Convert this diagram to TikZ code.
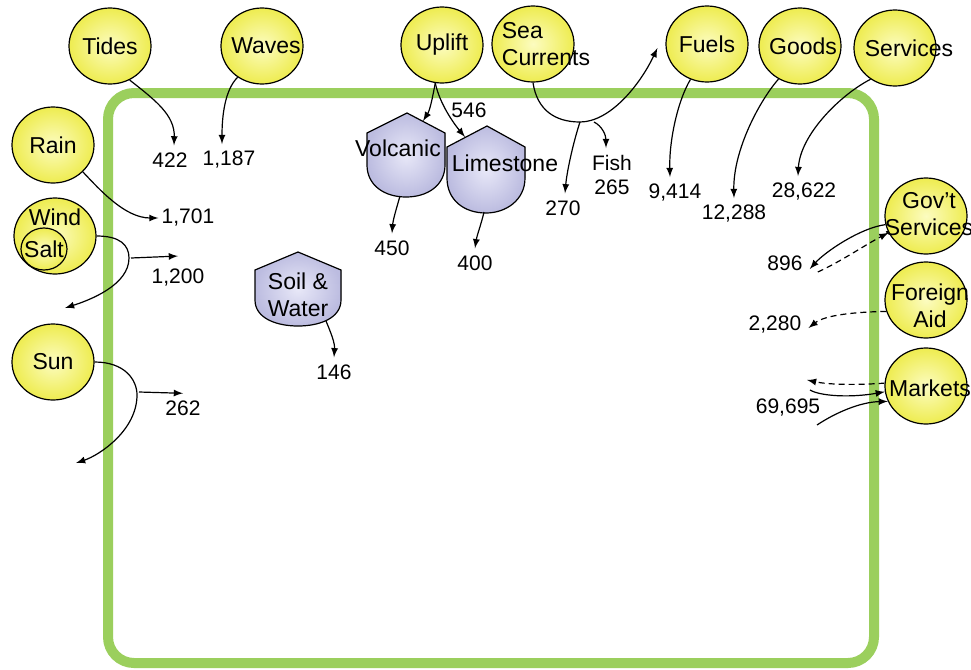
\documentclass[tikz,border=0pt]{standalone}
\usepackage{fontspec}
\setmainfont{Liberation Sans}
\usepackage{tikz}
\definecolor{framegreen}{RGB}{155,207,93}
\definecolor{srcyellow}{RGB}{238,236,80}
\definecolor{srclight}{RGB}{252,252,192}
\definecolor{stonepurple}{RGB}{188,188,224}
\definecolor{stonelight}{RGB}{232,232,248}
\usetikzlibrary{arrows, shapes.geometric}

\begin{document}
\begin{tikzpicture}[x=0.5pt, y=-0.5pt,
			>=latex,   %Pfeilspitzen
			line width=0.6pt, font=\fontsize{10.5}{12}\selectfont,
			src/.style={ellipse, draw=black, inner color=srclight, outer color=srcyellow, minimum width=41pt, minimum height=38pt, inner sep=0pt},
			srctext/.style={font=\fontsize{11.5}{13.5}\selectfont, align=center, inner sep=0pt},
			stone/.style={draw=black, inner color=stonelight, outer color=stonepurple},
			flow/.style={->},
			swap/.style={->, dash pattern=on 3pt off 2pt}]
			%Hintergrund und Rahmen
			\path[fill=white, use as bounding box] (0,0) rectangle (971,670);
			\draw[framegreen, line width=5pt, rounded corners=13pt] (108,93) rectangle (874,663);
			%Gestein
			\filldraw[stone] (407,113) -- (445,133) -- (445,165) .. controls (445,185) and (428,197) .. (406,197) .. controls (384,197) and (367,185) .. (367,165) -- (367,133) -- cycle;
			\filldraw[stone] (487,126) -- (525,147) -- (525,178) .. controls (525,200) and (506,213) .. (486,213) .. controls (464,213) and (447,200) .. (447,178) -- (447,147) -- cycle;
			\filldraw[stone] (298,252) -- (341,270) -- (341,300) .. controls (341,318) and (320,326) .. (298,326) .. controls (276,326) and (255,318) .. (255,300) -- (255,270) -- cycle;
			\node[srctext] (volcanic) at (398,148) {Volcanic};
			\node[srctext] (limestone) at (505,163) {Limestone};
			\node[srctext] (soil) at (298,295) {Soil \&\\Water};
			\coordinate (vol-in) at (423,121);
			\coordinate (lime-in) at (465,137);
			\coordinate (vol-out) at (400,196);
			\coordinate (lime-out) at (484,212);
			\coordinate (soil-out) at (326,321);
			%Quellen oben
			\node[src, label={[srctext]center:Tides}] (tides) at (110,46) {};
			\node[src, label={[srctext, xshift=2pt]center:Waves}] (waves) at (262,46) {};
			\node[src, label={[srctext]center:Uplift}] (uplift) at (442,45) {};
			\node[src, label={[srctext, align=left, xshift=6.5pt]center:Sea\\Currents}] (sea) at (533,44) {};
			\node[src, label={[srctext]center:Fuels}] (fuels) at (707,44) {};
			\node[src, label={[srctext, xshift=1.5pt]center:Goods}] (goods) at (800,46) {};
			\node[src, label={[srctext, xshift=7pt]center:Services}] (services) at (895,48) {};
			%Quellen links
			\node[src, label={[srctext]center:Rain}] (rain) at (53,145) {};
			\node[src, label={[srctext, yshift=9.5pt]center:Wind}] (wind) at (55,236) {};
			\node[src, minimum width=23pt, minimum height=21pt, label={[srctext]center:Salt}] (salt) at (44,249) {};
			\node[src, label={[srctext]center:Sun}] (sun) at (53,362) {};
			%Quellen rechts
			\node[src, label={[srctext, xshift=1.5pt, yshift=1pt]center:Gov’t\\Services}] (gov) at (926,216) {};
			\node[src, label={[srctext, xshift=2pt, yshift=-3pt]center:Foreign\\Aid}] (aid) at (926,300) {};
			\node[src, label={[srctext, xshift=2pt, yshift=-1pt]center:Markets}] (markets) at (926,386) {};
			%Werte
			\node (n422) at (170,160) {422};
			\node (n1187) at (229,160) {1,187};
			\node (n1701) at (188,218) {1,701};
			\node (n1200) at (178,278) {1,200};
			\node (n262) at (183,408) {262};
			\node (n146) at (334,372) {146};
			\node (n546) at (469,110) {546};
			\node (n450) at (392,248) {450};
			\node (n400) at (475,263) {400};
			\node (n270) at (563,208) {270};
			\node[align=center] (fish) at (612,175) {Fish\\265};
			\node (n9414) at (675,193) {9,414};
			\node (n12288) at (734,214) {12,288};
			\node (n28622) at (804,192) {28,622};
			\node (n896) at (785,263) {896};
			\node (n2280) at (775,325) {2,280};
			\node (n69695) at (788,408) {69,695};
			%freie Enden
			\coordinate (wind-br) at (129,258);
			\coordinate (wind-out) at (65,308);
			\coordinate (sun-br) at (137,395);
			\coordinate (sun-out) at (76,463);
			\coordinate (sea-br) at (580,122);
			\coordinate (fish-br) at (594,122);
			\coordinate (mk-out) at (807,380);
			\coordinate (mk-a) at (810,390);
			\coordinate (mk-b) at (817,425);
			%Pfeile links und oben
			\draw[flow] (tides.-60) .. controls (155,100) and (175,115) .. ([xshift=2pt]n422.north);
			\draw[flow] (waves.-128) .. controls (225,90) and (222,115) .. ([xshift=-3.5pt]n1187.north);
			\draw[flow] (rain.-42) .. controls (100,190) and (125,218) .. ([xshift=2pt]n1701.west);
			\draw[flow] (wind.east) .. controls (120,236) and (129,245) .. (wind-br) .. controls (129,285) and (90,300) .. (wind-out);
			\draw[flow] ([xshift=1pt]wind-br) -- ([yshift=3pt]n1200.north);
			\draw[flow] (sun.east) .. controls (125,362) and (137,380) .. (sun-br) .. controls (137,430) and (100,455) .. (sun-out);
			\draw[flow] ([xshift=1pt,yshift=1.5pt]sun-br) -- (n262.north);
			\draw[flow] (uplift.-100) .. controls (432,100) and (430,110) .. (vol-in);
			\draw[flow] (uplift.-100) .. controls (440,105) and (455,125) .. (lime-in);
			\draw[flow] (vol-out) .. controls (396,210) and (393,220) .. (n450.north);
			\draw[flow] (lime-out) .. controls (481,225) and (477,235) .. (n400.north);
			\draw[flow] (soil-out) .. controls (331,333) and (335,343) .. (n146.north);
			\draw[flow] (sea.south) .. controls (537,110) and (555,122) .. (sea-br) .. controls (610,122) and (640,85) .. ([xshift=-4pt,yshift=-2pt]fuels.west);
			\draw[flow] (sea-br) .. controls (574,140) and (567,170) .. ([xshift=1pt]n270.north);
			\draw[flow] (fish-br) .. controls (602,126) and (606,135) .. ([xshift=-3pt]fish.north);
			\draw[flow] (fuels.-115) .. controls (678,100) and (669,140) .. ([xshift=-2.5pt]n9414.north);
			\draw[flow] (goods.-123) .. controls (760,100) and (733,150) .. (n12288.north);
			\draw[flow] (services.-128) .. controls (840,95) and (800,135) .. ([xshift=-3pt]n28622.north);
			%Pfeile rechts
			\draw[flow] (gov.192) .. controls (860,228) and (825,252) .. ([yshift=-3pt]n896.east);
			\draw[swap] ([xshift=4pt,yshift=-4.5pt]n896.east) .. controls (840,262) and (865,245) .. (gov.204);
			\draw[swap] (aid.196) .. controls (855,312) and (825,315) .. ([yshift=-1.5pt]n2280.east);
			\draw[swap] (markets.176) .. controls (860,385) and (830,385) .. (mk-out);
			\draw[flow] (mk-a) .. controls (820,396) and (850,398) .. (markets.188);
			\draw[flow] (mk-b) .. controls (835,413) and (860,402) .. (markets.202);
		\end{tikzpicture}
\end{document}
